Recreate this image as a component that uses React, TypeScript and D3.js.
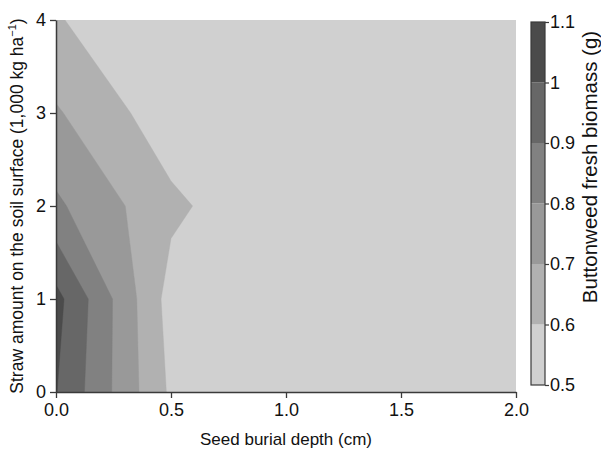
import React, { useEffect, useRef } from 'react';
import * as d3 from 'd3';

// grid the surface was measured on
const depthGrid = [0, 0.5, 1.0, 1.5, 2.0];
const strawGrid = [0, 1, 2, 3, 4];

// biomass (g), one row per straw amount (bottom to top), columns follow depthGrid
const biomassStraw0 = [1.004, 0.583, 0.54, 0.53, 0.52];
const biomassStraw1 = [1.033, 0.559, 0.53, 0.52, 0.52];
const biomassStraw2 = [0.818, 0.622, 0.505, 0.51, 0.51];
const biomassStraw3 = [0.711, 0.54, 0.52, 0.51, 0.51];
const biomassStraw4 = [0.604, 0.553, 0.52, 0.51, 0.51];

const levels = [0.5, 0.6, 0.7, 0.8, 0.9, 1.0, 1.1];
const levelColors = ['#d0d0d0', '#b1b1b1', '#999999', '#818181', '#676767', '#4b4b4b'];

const xTicks = [0, 0.5, 1.0, 1.5, 2.0];
const yTicks = [0, 1, 2, 3, 4];

const W = 601;
const H = 452;
const FONT = '"Liberation Sans", Arial, sans-serif';

const App = () => {
  const ref = useRef<SVGSVGElement>(null);

  useEffect(() => {
    const svg = d3.select(ref.current);
    svg.selectAll('*').remove();

    const x = d3.scaleLinear().domain([0, 2]).range([56, 516]);
    const y = d3.scaleLinear().domain([0, 4]).range([392, 20]);

    const rows = [biomassStraw0, biomassStraw1, biomassStraw2, biomassStraw3, biomassStraw4];
    const nx = depthGrid.length;
    const ny = strawGrid.length;
    const values = rows.flat();
    const dxStep = depthGrid[1] - depthGrid[0];
    const dyStep = strawGrid[1] - strawGrid[0];

    const contours = d3.contours()
      .size([nx, ny])
      .thresholds(levels.slice(0, -1))(values);

    // grid index i sits at contour coordinate i + 0.5
    const proj = d3.geoTransform({
      point(px, py) {
        this.stream.point(
          x(depthGrid[0] + (px - 0.5) * dxStep),
          y(strawGrid[0] + (py - 0.5) * dyStep)
        );
      }
    });
    const path = d3.geoPath(proj);

    svg.append('defs').append('clipPath').attr('id', 'plot-clip')
      .append('rect')
      .attr('x', x(0)).attr('y', y(4))
      .attr('width', x(2) - x(0)).attr('height', y(0) - y(4));

    const plot = svg.append('g').attr('clip-path', 'url(#plot-clip)');
    plot.append('rect')
      .attr('x', x(0)).attr('y', y(4))
      .attr('width', x(2) - x(0)).attr('height', y(0) - y(4))
      .attr('fill', levelColors[0]);

    plot.selectAll('path.band')
      .data(contours)
      .join('path')
      .attr('class', 'band')
      .attr('d', d => path(d as any))
      .attr('fill', (d, i) => levelColors[i])
      .attr('stroke', (d, i) => levelColors[i])
      .attr('stroke-width', 0.4);

    // axes
    const xAxis = svg.append('g')
      .attr('transform', `translate(0,${y(0)})`)
      .call(d3.axisBottom(x).tickValues(xTicks).tickFormat(d3.format('.1f')).tickSize(6).tickSizeOuter(0));
    const yAxis = svg.append('g')
      .attr('transform', `translate(${x(0)},0)`)
      .call(d3.axisLeft(y).tickValues(yTicks).tickFormat(d3.format('d')).tickSize(6).tickSizeOuter(0));

    [xAxis, yAxis].forEach(a => {
      a.select('.domain').attr('stroke', '#3a3a3a').attr('stroke-width', 1.5);
      a.selectAll('.tick line').attr('stroke', '#3a3a3a').attr('stroke-width', 1.3);
      a.selectAll('.tick text').attr('font-family', FONT).attr('font-size', 18).attr('fill', '#111');
    });
    xAxis.selectAll('.tick text').attr('dy', '0.85em');
    yAxis.selectAll('.tick text').attr('dx', '-0.05em');

    svg.append('text')
      .attr('x', (x(0) + x(2)) / 2).attr('y', 445)
      .attr('text-anchor', 'middle')
      .attr('font-family', FONT).attr('font-size', 17).attr('fill', '#111')
      .text('Seed burial depth (cm)');

    const yTitle = svg.append('text')
      .attr('transform', `translate(23,${(y(0) + y(4)) / 2}) rotate(-90)`)
      .attr('text-anchor', 'middle')
      .attr('font-family', FONT).attr('font-size', 17.5).attr('fill', '#111');
    yTitle.append('tspan').text('Straw amount on the soil surface (1,000 kg ha');
    yTitle.append('tspan').attr('font-size', 11).attr('dy', -7).text('−1');
    yTitle.append('tspan').attr('dy', 7).text(')');

    // colour bar
    const cb = d3.scaleLinear().domain([0.5, 1.1]).range([385, 22]);
    const barX = 531;
    const barW = 14;
    const bar = svg.append('g');
    bar.selectAll('rect.seg')
      .data(levelColors)
      .join('rect')
      .attr('class', 'seg')
      .attr('x', barX)
      .attr('y', (d, i) => cb(levels[i + 1]))
      .attr('width', barW)
      .attr('height', (d, i) => cb(levels[i]) - cb(levels[i + 1]))
      .attr('fill', d => d);
    bar.append('rect')
      .attr('x', barX).attr('y', cb(1.1))
      .attr('width', barW).attr('height', cb(0.5) - cb(1.1))
      .attr('fill', 'none').attr('stroke', '#3a3a3a').attr('stroke-width', 1.2);

    const cbAxis = svg.append('g')
      .attr('transform', `translate(${barX + barW},0)`)
      .call(d3.axisRight(cb).tickValues(levels).tickFormat(d => String(d)).tickSize(4).tickSizeOuter(0));
    cbAxis.select('.domain').remove();
    cbAxis.selectAll('.tick line').attr('stroke', '#3a3a3a').attr('stroke-width', 1.2);
    cbAxis.selectAll('.tick text')
      .attr('font-family', FONT).attr('font-size', 18).attr('fill', '#111').attr('x', 5);

    svg.append('text')
      .attr('transform', `translate(597,167) rotate(-90)`)
      .attr('text-anchor', 'middle')
      .attr('font-family', FONT).attr('font-size', 20.5).attr('fill', '#111')
      .text('Buttonweed fresh biomass (g)');
  }, []);

  return (
    <svg
      ref={ref}
      width={W}
      height={H}
      style={{ position: 'absolute', left: 0, top: 0, background: '#fff' }}
    />
  );
};

export default App;
